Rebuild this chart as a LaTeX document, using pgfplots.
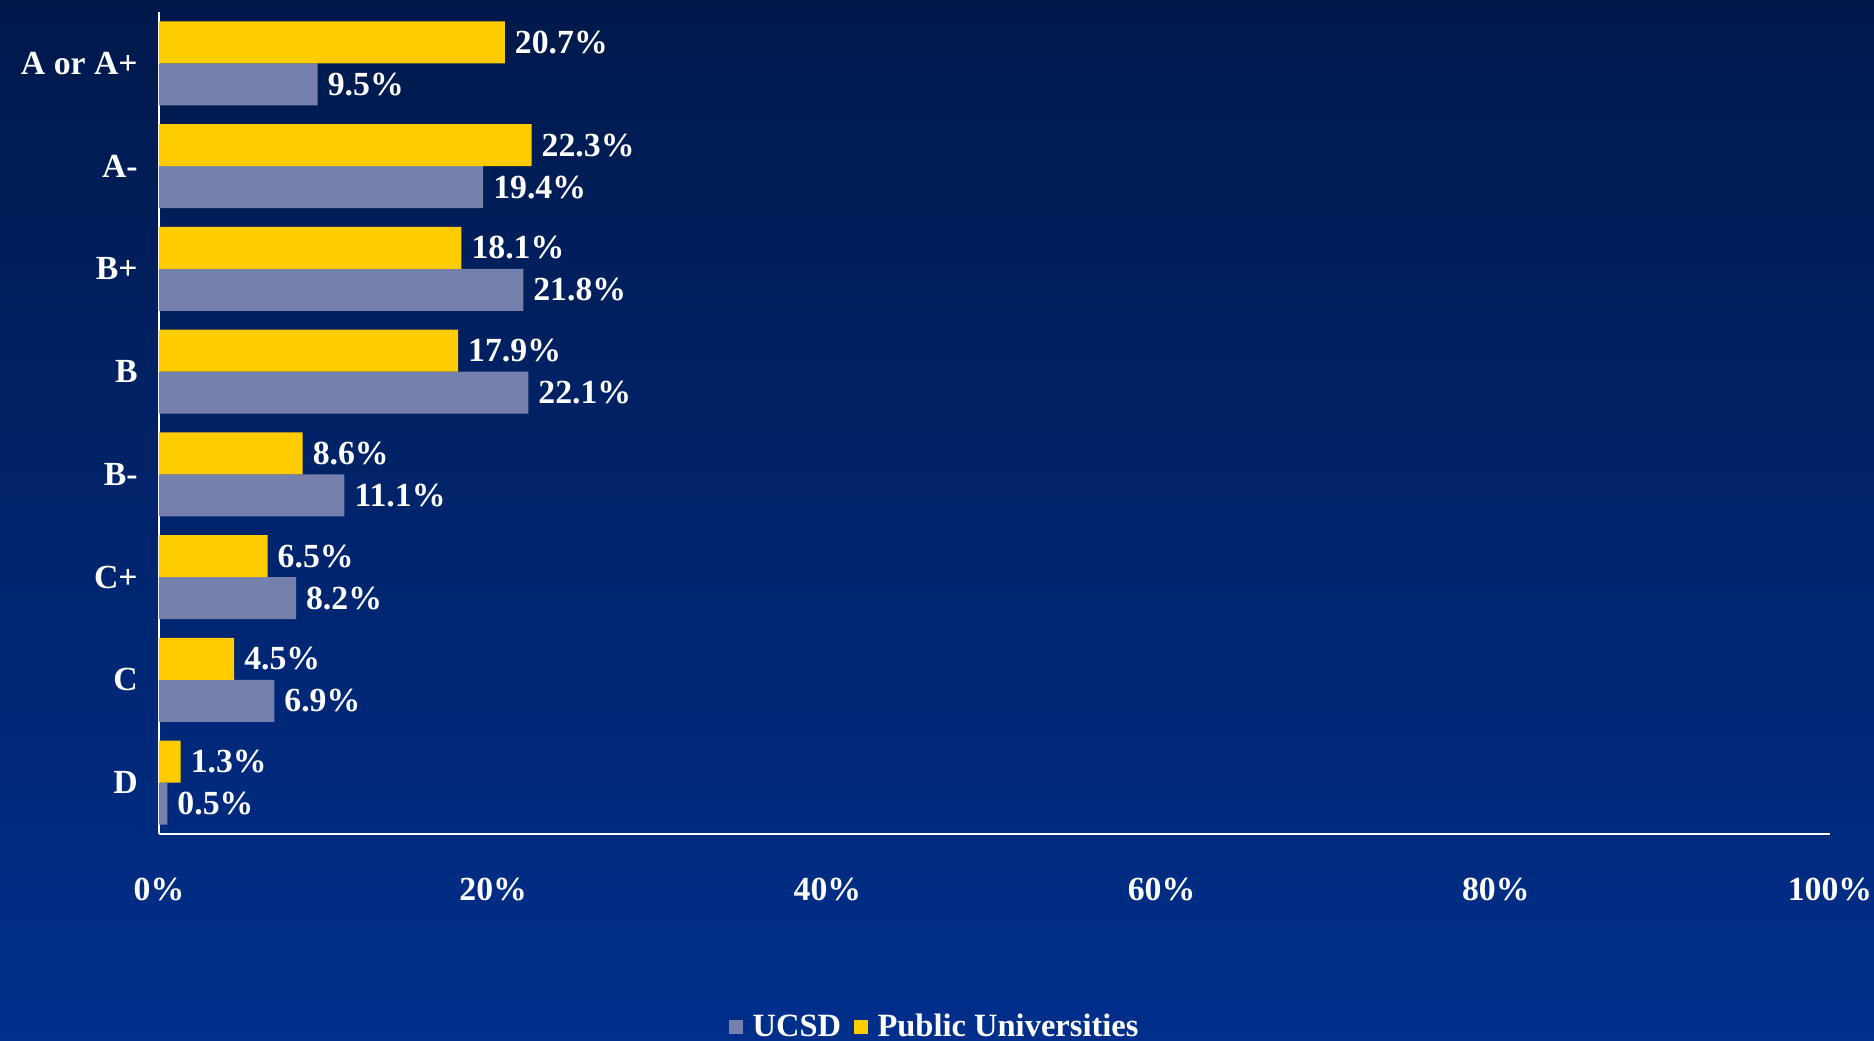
\documentclass[border=0pt]{standalone}
\usepackage{fontspec}
\setmainfont{Liberation Serif}
\usepackage{pgfplots}
\pgfplotsset{compat=1.18}
\definecolor{bgtop}{RGB}{0,25,75}
\definecolor{bgbot}{RGB}{0,47,140}
\definecolor{ucsd}{RGB}{117,128,173}
\definecolor{pub}{RGB}{255,204,0}
\begin{document}
\begin{tikzpicture}
\useasboundingbox (0,0) rectangle (749.6pt,416.4pt);
\shade[top color=bgtop, bottom color=bgbot] (0,0) rectangle (749.6pt,416.4pt);
\begin{axis}[
  at={(63.6pt,82.8pt)}, anchor=south west,
  scale only axis, width=668.4pt, height=328.8pt,
  xbar, bar width=16.8pt,
  xmin=0, xmax=100, ymin=-0.5, ymax=7.5,
  xtick={0,20,40,60,80,100},
  xticklabels={0\%,20\%,40\%,60\%,80\%,100\%},
  ytick={0,1,2,3,4,5,6,7},
  yticklabels={D,C,C+,B-,B,B+,A-,A or A+},
  major tick length=0pt,
  axis lines*=left,
  axis line style={white, line width=0.9pt, -},
  tick label style={white, font=\fontsize{13.5}{16}\selectfont\bfseries},
  xticklabel style={yshift=-14pt},
  yticklabel style={xshift=-5pt},
  clip=false,
  nodes near coords={\pgfmathprintnumber[assume math mode=true,fixed,fixed zerofill,precision=1]{\pgfplotspointmeta}\%},
  every node near coord/.append style={white, font=\fontsize{13.5}{16}\selectfont\bfseries, anchor=west, xshift=0.5pt},
  legend style={at={(0.465,-0.235)}, anchor=center, draw=none, fill=none, text=white,
    font=\fontsize{13}{15}\selectfont\bfseries, legend columns=-1,
    /tikz/every odd column/.append style={column sep=2pt},
    /tikz/every even column/.append style={column sep=3pt}},
  legend image code/.code={\fill[#1] (0pt,-2.8pt) rectangle (5.6pt,2.8pt);},
]
\addplot[fill=ucsd, draw=none, bar shift=-8.4pt] coordinates {
 (0.5,0) (6.9,1) (8.2,2) (11.1,3) (22.1,4) (21.8,5) (19.4,6) (9.5,7)};
\addlegendentry{UCSD}
\addplot[fill=pub, draw=none, bar shift=8.4pt] coordinates {
 (1.3,0) (4.5,1) (6.5,2) (8.6,3) (17.9,4) (18.1,5) (22.3,6) (20.7,7)};
\addlegendentry{Public Universities}
\end{axis}
\end{tikzpicture}
\end{document}
